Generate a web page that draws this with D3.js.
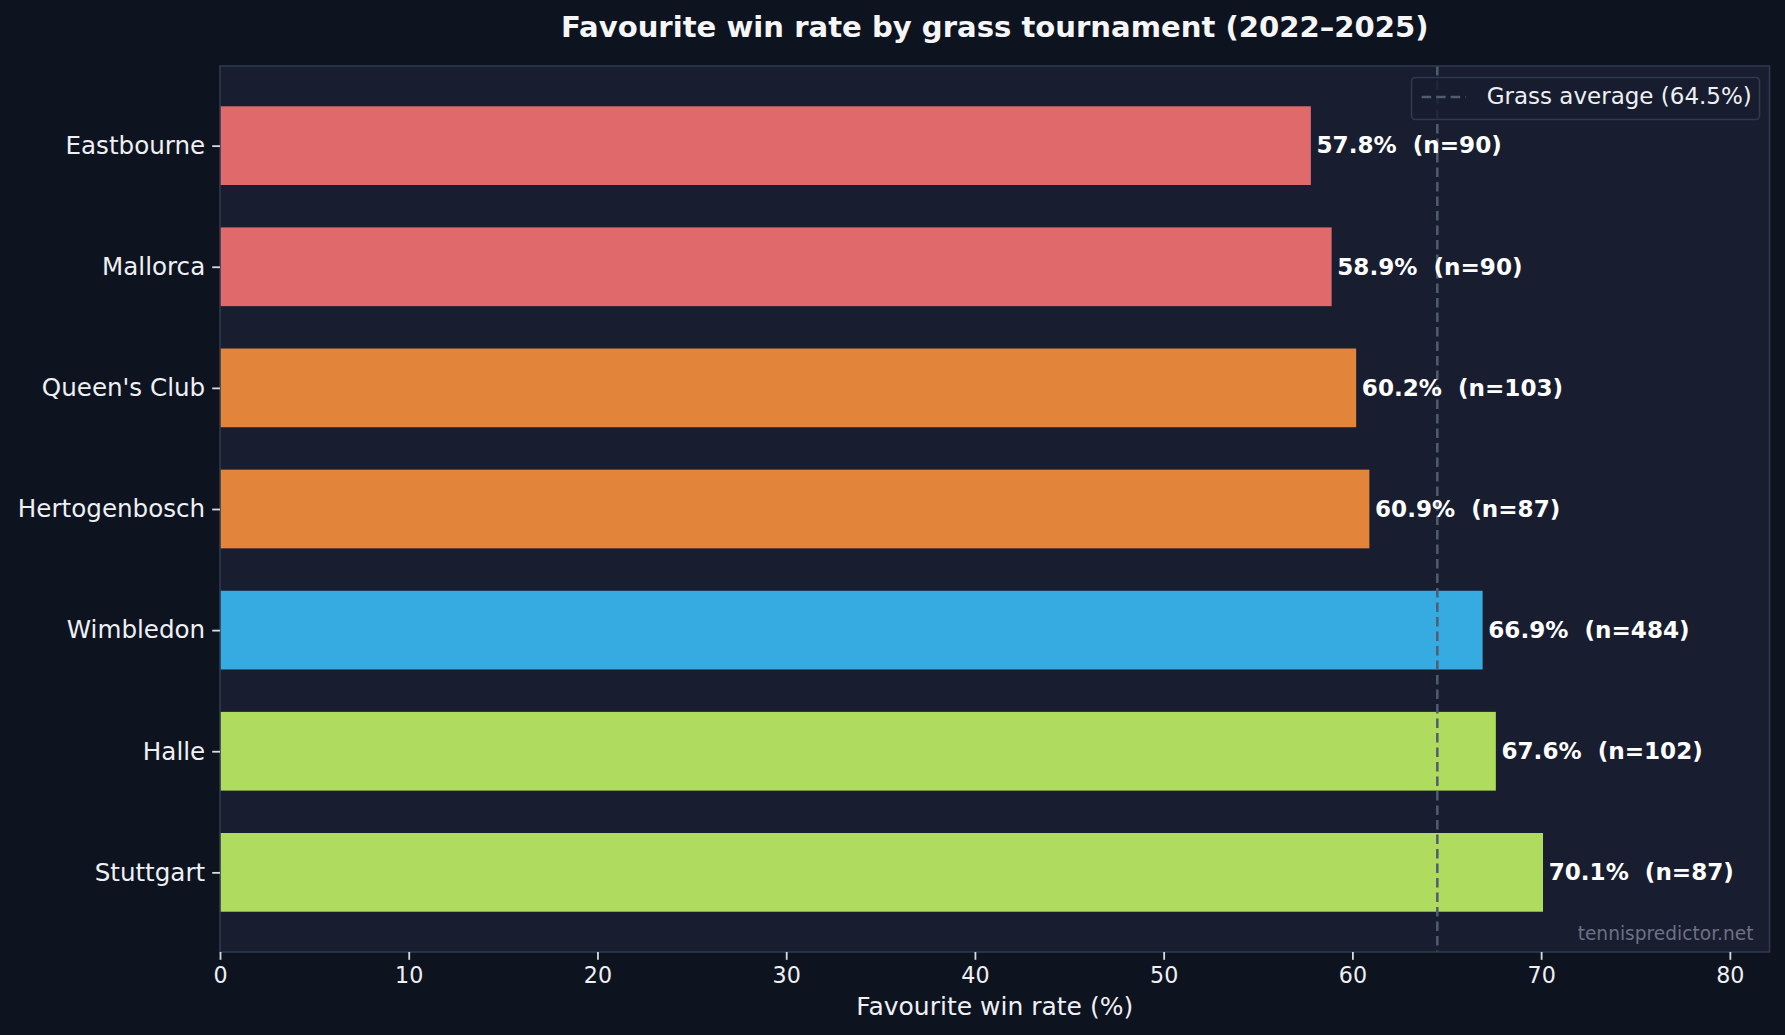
<!DOCTYPE html>
<html>
<head>
<meta charset="utf-8">
<script src="https://cdn.jsdelivr.net/npm/d3@7"></script>
<style>
  html, body { margin: 0; padding: 0; background: #0e1320; }
  svg { display: block; font-family: "DejaVu Sans", sans-serif; }
</style>
</head>
<body>
<svg id="chart" width="1785" height="1035"></svg>
<script>
// tournaments, top to bottom
let tournaments = ["Eastbourne", "Mallorca", "Queen's Club", "Hertogenbosch", "Wimbledon", "Halle", "Stuttgart"];
let winRates = [57.8, 58.9, 60.2, 60.9, 66.9, 67.6, 70.1];
let sampleSizes = [90, 90, 103, 87, 484, 102, 87];
let barColors = ["#e0696c", "#e0696c", "#e2853a", "#e2853a", "#35abe2", "#afdb5f", "#afdb5f"];
let grassAverage = 64.5;
let xTicks = [0, 10, 20, 30, 40, 50, 60, 70, 80];

let W = 1785, H = 1035;
let plotL = 220, plotR = 1769.5, plotT = 66, plotB = 952;

var svg = d3.select("#chart");

svg.append("rect").attr("width", W).attr("height", H).attr("fill", "#0e1320");

let x = d3.scaleLinear().domain([0, 82.1]).range([plotL, plotR]);
let y = d3.scaleLinear().domain([-0.6575, 6.6575]).range([plotT, plotB]);
let barH = y(0.65) - y(0);

// plot background
svg.append("rect")
    .attr("x", plotL).attr("y", plotT)
    .attr("width", plotR - plotL).attr("height", plotB - plotT)
    .attr("fill", "#181d2f");

// bars
var rows = tournaments.map(function(t, i) {
    return { name: t, rate: winRates[i], n: sampleSizes[i], color: barColors[i], idx: i };
});

svg.append("g").selectAll("rect")
    .data(rows)
  .enter().append("rect")
    .attr("x", x(0))
    .attr("y", function(d) { return y(d.idx) - barH / 2 })
    .attr("width", function(d) { return x(d.rate) - x(0) })
    .attr("height", barH)
    .attr("fill", function(d) { return d.color });

// average line
svg.append("line")
    .attr("x1", x(grassAverage)).attr("x2", x(grassAverage))
    .attr("y1", plotT).attr("y2", plotB)
    .attr("stroke", "#505c70")
    .attr("stroke-width", 2.5)
    .attr("stroke-dasharray", "9.5,5");

// bar labels (two spaces kept with a nbsp)
svg.append("g").selectAll("text")
    .data(rows)
  .enter().append("text")
    .attr("x", function(d) { return x(d.rate + 0.3) })
    .attr("y", function(d) { return y(d.idx) })
    .attr("dy", "0.34em")
    .attr("fill", "#ffffff")
    .attr("font-size", 23.1)
    .attr("font-weight", "bold")
    .text(function(d) { return d.rate.toFixed(1) + "%\u00a0 (n=" + d.n + ")" });

// spines
svg.append("rect")
    .attr("x", plotL).attr("y", plotT)
    .attr("width", plotR - plotL).attr("height", plotB - plotT)
    .attr("fill", "none")
    .attr("stroke", "#2f3a4e")
    .attr("stroke-width", 1.6);

// x axis
var xAxis = svg.append("g")
    .attr("transform", "translate(0," + plotB + ")")
    .call(d3.axisBottom(x).tickValues(xTicks).tickSize(7.8).tickPadding(7).tickFormat(d3.format("d")));
xAxis.select(".domain").remove();
xAxis.selectAll("line").attr("stroke", "#d8dbe2").attr("stroke-width", 1.8);
xAxis.selectAll("text").attr("fill", "#eef0f4").attr("font-size", 22.2)
    .attr("font-family", "DejaVu Sans");

// y axis
var yAxis = svg.append("g")
    .attr("transform", "translate(" + plotL + ",0)")
    .call(d3.axisLeft(y).tickValues(d3.range(tournaments.length)).tickSize(7.8).tickPadding(7)
        .tickFormat(function(i) { return tournaments[i] }));
yAxis.select(".domain").remove();
yAxis.selectAll("line").attr("stroke", "#d8dbe2").attr("stroke-width", 1.8);
yAxis.selectAll("text").attr("fill", "#eef0f4").attr("font-size", 24.6)
    .attr("font-family", "DejaVu Sans");

// title
svg.append("text")
    .attr("x", (plotL + plotR) / 2).attr("y", 36.7)
    .attr("text-anchor", "middle")
    .attr("fill", "#f5f6f8")
    .attr("font-size", 29.1)
    .attr("font-weight", "bold")
    .text("Favourite win rate by grass tournament (2022\u20132025)");

// x label
svg.append("text")
    .attr("x", (plotL + plotR) / 2).attr("y", 1015)
    .attr("text-anchor", "middle")
    .attr("fill", "#eef0f4")
    .attr("font-size", 25)
    .text("Favourite win rate (%)");

// legend
var lg = svg.append("g");
lg.append("rect")
    .attr("x", 1411.5).attr("y", 77.5)
    .attr("width", 348).attr("height", 42)
    .attr("rx", 4).attr("ry", 4)
    .attr("fill", "#181d2f").attr("fill-opacity", 0.85)
    .attr("stroke", "#2f3a4e").attr("stroke-width", 1.6);
lg.append("line")
    .attr("x1", 1421.7).attr("x2", 1465.7)
    .attr("y1", 97).attr("y2", 97)
    .attr("stroke", "#505c70")
    .attr("stroke-width", 2.5)
    .attr("stroke-dasharray", "9.5,5");
lg.append("text")
    .attr("x", 1486.7).attr("y", 104.3)
    .attr("fill", "#eef0f4")
    .attr("font-size", 23)
    .text("Grass average (" + grassAverage + "%)");

// watermark
svg.append("text")
    .attr("x", 1753.5).attr("y", 940)
    .attr("text-anchor", "end")
    .attr("fill", "#6b7282")
    .attr("font-size", 18.6)
    .text("tennispredictor.net");
</script>
</body>
</html>
